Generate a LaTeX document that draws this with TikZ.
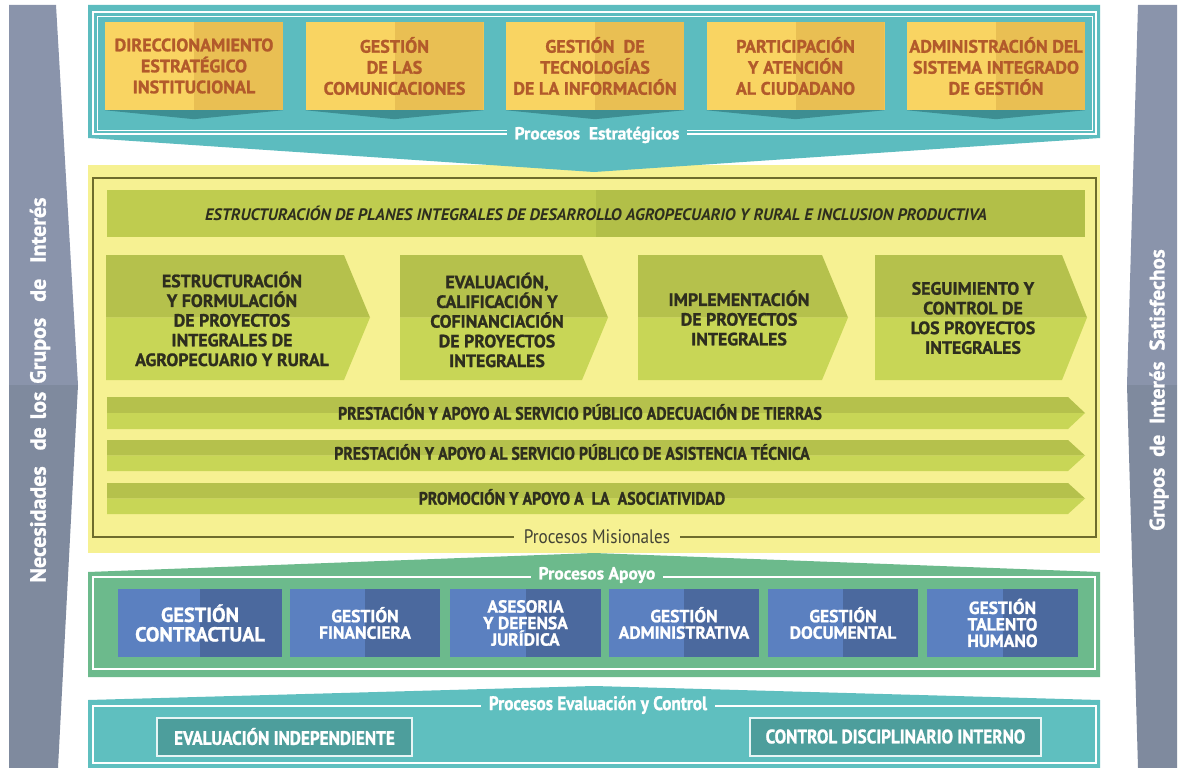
\documentclass[tikz,border=0pt]{standalone}
\usepackage{fontspec}
\setmainfont{PT Sans}[BoldFeatures={FakeBold=1.2}]
\newfontfamily\condf{PT Sans}[FakeStretch=0.88, BoldFeatures={FakeBold=1.2,FakeStretch=0.88}]
\definecolor{grayA}{HTML}{8A94AB}
\definecolor{grayB}{HTML}{7F8A9E}
\definecolor{tealA}{HTML}{5CBCBF}
\definecolor{tealD}{HTML}{3D8E92}
\definecolor{ylight}{HTML}{F9D462}
\definecolor{ydark}{HTML}{E9BF53}
\definecolor{rust}{HTML}{B25A2B}
\definecolor{yelbg}{HTML}{F6F192}
\definecolor{olivefr}{HTML}{6E6C2C}
\definecolor{barL}{HTML}{BFCC4F}
\definecolor{barR}{HTML}{B2BF48}
\definecolor{chevT}{HTML}{B5C14C}
\definecolor{chevB}{HTML}{C8D656}
\definecolor{darktext}{HTML}{2E2E1E}
\definecolor{greenS}{HTML}{6CBA8C}
\definecolor{blueL}{HTML}{5B80C0}
\definecolor{blueD}{HTML}{4B699E}
\definecolor{tealB}{HTML}{5FBFBF}
\definecolor{tealBox}{HTML}{4D9E9C}
\tikzset{
  twotone/.style 2 args={fill=#1, path picture={\fill[#2] (path picture bounding box.north) rectangle (path picture bounding box.south east);}},
  ybox/.style={twotone={ylight}{ydark}, minimum width=178, minimum height=88, inner sep=0, text=rust, align=center, font=\bfseries\fontsize{18}{21}\selectfont},
  bbox/.style={twotone={blueL}{blueD}, minimum height=68, inner sep=0, text=white, align=center, font=\bfseries\fontsize{17.5}{16.5}\selectfont},
  chevtext/.style={text=darktext, align=center, inner sep=0, font=\bfseries\fontsize{17.8}{19.7}\selectfont},
  longtext/.style={text=darktext, inner sep=0, font=\condf\bfseries\fontsize{18}{20}\selectfont},
  seclabel/.style={text=white, inner xsep=8, inner ysep=1, font=\bfseries\fontsize{17.5}{19}\selectfont},
  sidetext/.style={text=white, rotate=90, inner sep=0, font=\bfseries\fontsize{22}{24}\selectfont},
  ecbox/.style={fill=tealBox, draw=white!85!tealB, line width=2, minimum height=38, inner sep=0, text=white, font=\condf\bfseries\fontsize{19.5}{21}\selectfont},
  whiteframe/.style={draw=white, line width=1.3},
}
\newcommand\chev[6]{%
  \fill[#6top] (#1,#4) -- (#2,#4) -- (#3,{(#4+#5)/2}) -- (#1,{(#4+#5)/2}) -- cycle;
  \fill[#6bot] (#1,{(#4+#5)/2}) -- (#3,{(#4+#5)/2}) -- (#2,#5) -- (#1,#5) -- cycle;}
\tikzset{chevtop/.style={fill=chevT}, chevbot/.style={fill=chevB}}
\begin{document}
\begin{tikzpicture}[x=1pt,y=-1pt]
\useasboundingbox (0,0) rectangle (1178,768);
\fill[white] (0,0) rectangle (1178,768);
% side bars
\fill[grayA] (9,5) -- (56,5) -- (78,385) -- (9,385) -- cycle;
\fill[grayB] (9,385) -- (78,385) -- (58,768) -- (9,768) -- cycle;
\fill[grayA] (1138,5) -- (1177,5) -- (1177,385) -- (1127,385) -- cycle;
\fill[grayB] (1127,385) -- (1177,385) -- (1177,768) -- (1138,768) -- cycle;
\node[sidetext] (needs) at (40,390) {Necesidades\hspace{16pt}de\hspace{8pt}los\hspace{8pt}Grupos\hspace{16pt}de\hspace{16pt}Interés};
\node[sidetext, font=\bfseries\fontsize{21}{23}\selectfont] (sat) at (1159,390) {Grupos\hspace{11pt}de\hspace{11pt}Interés\hspace{11pt}Satisfechos};
% misional yellow section
\fill[yelbg] (88,165) rectangle (1100,553);
% strategic teal section
\fill[tealA] (88,5) -- (1100,5) -- (1100,138) -- (594,172) -- (88,138) -- cycle;
\draw[whiteframe] (93,12) rectangle (1096,134);
\draw[draw=white, line width=0.8] (97,16) rectangle (1092,130);
\foreach \i/\t in {0/{DIRECCIONAMIENTO\\ESTRATÉGICO\\INSTITUCIONAL},
                   1/{GESTIÓN\\DE LAS\\COMUNICACIONES},
                   2/{GESTIÓN\ \ DE\\TECNOLOGÍAS\\DE LA INFORMACIÓN},
                   3/{PARTICIPACIÓN\\Y ATENCIÓN\\AL CIUDADANO},
                   4/{ADMINISTRACIÓN DEL\\SISTEMA INTEGRADO\\DE GESTIÓN}}{
  \node[ybox] (s\i) at ({194+200.5*\i},66) {\t};
  \fill[tealD] (s\i.south west) -- (s\i.south east) -- ([yshift=-9pt]s\i.south) -- cycle;
}
\node[seclabel, fill=tealA] (pe) at (597,135) {Procesos\ \ Estratégicos};
% misional content
\draw[olivefr, line width=1.2] (93,178) rectangle (1096,537);
\node[twotone={barL}{barR}, minimum width=978, minimum height=47, inner sep=0, text=darktext, font=\bfseries\itshape\fontsize{16.6}{18}\selectfont] (plan) at (596,213.5) {ESTRUCTURACIÓN DE PLANES INTEGRALES DE DESARROLLO AGROPECUARIO Y RURAL E INCLUSION PRODUCTIVA};
\chev{106}{344}{370}{255}{380}{chev}
\chev{400}{582}{608}{255}{380}{chev}
\chev{638}{822}{848}{255}{380}{chev}
\chev{875}{1062}{1087}{255}{380}{chev}
\node[chevtext] (m1) at (232,319) {ESTRUCTURACIÓN\\Y FORMULACIÓN\\DE PROYECTOS\\INTEGRALES DE\\AGROPECUARIO Y RURAL};
\node[chevtext] (m2) at (497,320) {EVALUACIÓN,\\CALIFICACIÓN Y\\COFINANCIACIÓN\\DE PROYECTOS\\INTEGRALES};
\node[chevtext] (m3) at (739,318) {IMPLEMENTACIÓN\\DE PROYECTOS\\INTEGRALES};
\node[chevtext] (m4) at (973,318) {SEGUIMIENTO Y\\CONTROL DE\\LOS PROYECTOS\\INTEGRALES};
\chev{107}{1068}{1085}{397}{429}{chev}
\chev{107}{1068}{1085}{440}{471}{chev}
\chev{107}{1068}{1085}{483}{514}{chev}
\node[longtext] (l1) at (580,412) {PRESTACIÓN Y APOYO AL SERVICIO PÚBLICO ADECUACIÓN DE TIERRAS};
\node[longtext] (l2) at (572,452) {PRESTACIÓN Y APOYO AL SERVICIO PÚBLICO DE ASISTENCIA TÉCNICA};
\node[longtext] (l3) at (572,497) {PROMOCIÓN Y APOYO A\ \ LA\ \ ASOCIATIVIDAD};
\node[fill=yelbg, text=darktext!90, inner xsep=10, inner ysep=1, font=\condf\fontsize{19.5}{21}\selectfont] (pm) at (597,537) {Procesos Misionales};
% apoyo section
\fill[greenS] (88,572) -- (594,553) -- (1100,572) -- (1100,677) -- (88,677) -- cycle;
\draw[whiteframe] (93,577) rectangle (1095,669);
\node[seclabel, fill=greenS] (pa) at (597,575) {Procesos Apoyo};
\node[bbox, minimum width=164, font=\bfseries\fontsize{20.3}{19.5}\selectfont] (b1) at (200,623) {GESTIÓN\\CONTRACTUAL};
\node[bbox, minimum width=150] (b2) at (365,623) {GESTIÓN\\FINANCIERA};
\node[bbox, minimum width=151] (b3) at (525.5,623) {ASESORIA\\Y DEFENSA\\JURÍDICA};
\node[bbox, minimum width=150] (b4) at (684,623) {GESTIÓN\\ADMINISTRATIVA};
\node[bbox, minimum width=150] (b5) at (843,623) {GESTIÓN\\DOCUMENTAL};
\node[bbox, minimum width=151] (b6) at (1002.5,623) {GESTIÓN\\TALENTO\\HUMANO};
% evaluacion section
\fill[tealB] (88,700) -- (594,686) -- (1100,700) -- (1100,768) -- (88,768) -- cycle;
\draw[whiteframe] (93,706) rectangle (1096,763);
\node[seclabel, fill=tealB, font=\condf\bfseries\fontsize{19.5}{21}\selectfont] (pc) at (598,705) {Procesos Evaluación y Control};
\node[ecbox, minimum width=255] (e1) at (284.5,736.5) {EVALUACIÓN INDEPENDIENTE};
\node[ecbox, minimum width=291] (e2) at (895.5,736.5) {CONTROL DISCIPLINARIO INTERNO};
\end{tikzpicture}
\end{document}
